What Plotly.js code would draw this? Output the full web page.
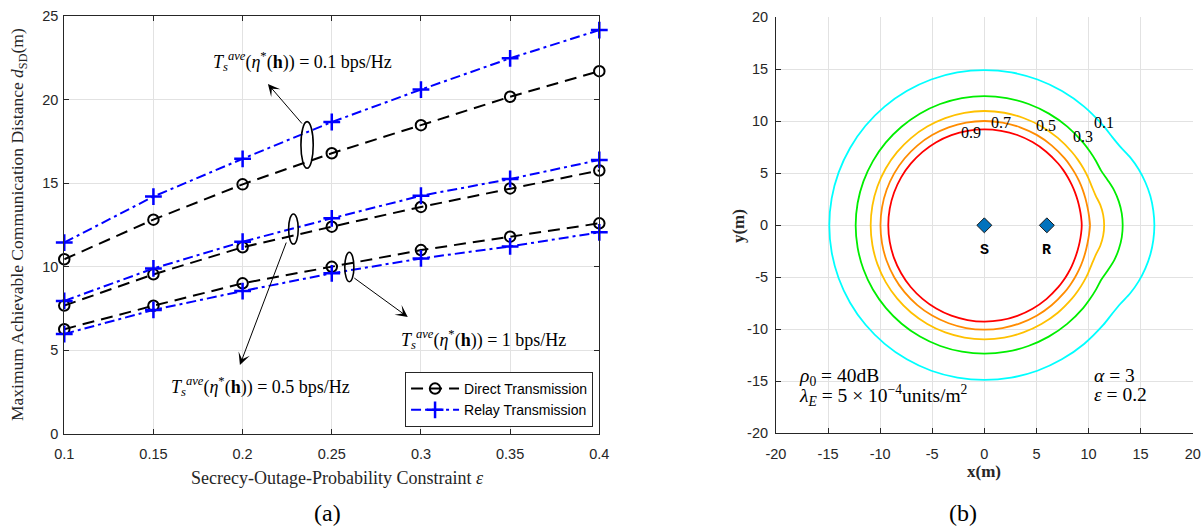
<!DOCTYPE html>
<html>
<head>
<meta charset="utf-8">
<script src="https://cdn.plot.ly/plotly-3.0.1.min.js"></script>
<style>html,body{margin:0;padding:0;background:#fff;}#plot{width:1201px;height:526px;}</style>
</head>
<body>
<div id="plot"></div>
<script>
// ---------- Panel (a) data ----------
const epsilon = [0.1, 0.15, 0.2, 0.25, 0.3, 0.35, 0.4];
const directT01 = [10.45, 12.82, 14.93, 16.79, 18.47, 20.17, 21.7];
const relayT01  = [11.45, 14.2, 16.46, 18.66, 20.6, 22.47, 24.16];
const directT05 = [7.68, 9.55, 11.17, 12.4, 13.58, 14.69, 15.76];
const relayT05  = [7.96, 9.9, 11.5, 12.9, 14.25, 15.25, 16.39];
const directT1  = [6.27, 7.67, 9.01, 10.0, 11.0, 11.8, 12.6];
const relayT1   = [5.98, 7.42, 8.55, 9.61, 10.5, 11.22, 12.06];
const xTickVals = [0.1, 0.15, 0.2, 0.25, 0.3, 0.35, 0.4];
const xTickText = ['0.1', '0.15', '0.2', '0.25', '0.3', '0.35', '0.4'];
const yTickVals = [0, 5, 10, 15, 20, 25];
const yTickText = ['0', '5', '10', '15', '20', '25'];

// ---------- Panel (b) data: contour radii (m) read at polar angles (deg) about S ----------
const contourAngles = [0,5,10,15,20,25,30,35,40,50,60,70,80,90,100,110,120,130,140,150,160,170,180,190,200,210,220,230,240,250,260,270,280,290,300,310,320,325,330,335,340,345,350,355,360];
const contourLevels = ['0.1', '0.3', '0.5', '0.7', '0.9'];
const r01 = [16.32,16.28,16.18,16.0,15.76,15.45,15.08,14.92,14.9, 14.9,14.91,14.92,14.93,14.93,14.93,14.92,14.91,14.9,14.89,14.88,14.88,14.88,14.88,14.88,14.88,14.88,14.88,14.88,14.88,14.88,14.87,14.87,14.87,14.88,14.88,14.89, 14.9,14.92,15.08,15.45,15.76,16.0,16.18,16.28,16.32];
const r03 = [13.28,13.24,13.11,12.91,12.62,12.38,12.37,12.37,12.38, 12.39,12.4,12.41,12.42,12.43,12.42,12.41,12.39,12.37,12.36,12.35,12.35,12.35,12.35,12.35,12.35,12.35,12.35,12.35,12.35,12.35,12.34,12.34,12.34,12.35,12.36,12.37, 12.38,12.37,12.37,12.38,12.62,12.91,13.11,13.24,13.28];
const r05 = [11.5,11.45,11.3,11.06,10.97,10.97,10.97,10.97,10.97, 10.97,10.98,10.98,10.99,10.99,10.98,10.97,10.96,10.95,10.94,10.93,10.92,10.91,10.91,10.91,10.92,10.93,10.94,10.95,10.95,10.96,10.96,10.96,10.96,10.96,10.96,10.97, 10.97,10.97,10.97,10.97,10.97,11.06,11.3,11.45,11.5];
const r07 = [10.14,10.09,10.05,10.04,10.04,10.04,10.04,10.04,10.04, 10.04,10.04,10.03,10.03,10.03,10.03,10.02,10.02,10.01,10.0,9.99,9.98,9.97,9.97,9.97,9.98,9.99,10.0,10.01,10.02,10.02,10.03,10.03,10.03,10.03,10.04,10.04, 10.04,10.04,10.04,10.04,10.04,10.04,10.05,10.09,10.14];
const r09 = [9.35,9.32,9.29,9.27,9.26,9.25,9.25,9.25,9.25, 9.24,9.24,9.24,9.23,9.23,9.23,9.23,9.23,9.22,9.22,9.22,9.22,9.22,9.22,9.22,9.22,9.22,9.23,9.23,9.24,9.25,9.25,9.26,9.26,9.26,9.26,9.26, 9.26,9.26,9.26,9.26,9.26,9.27,9.29,9.32,9.35];
const nodeX = [0, 6];
const nodeY = [0, 0];
const nodeNames = ['S', 'R'];
const bTickVals = [-20, -15, -10, -5, 0, 5, 10, 15, 20];
const bTickText = ['-20', '-15', '-10', '-5', '0', '5', '10', '15', '20'];

// ---------- styling ----------
const AX = '#262626';
const GRID = '#e2e2e2';
const SERIF = 'Liberation Serif, Times New Roman, serif';
const SANS = 'Liberation Sans, Arial, sans-serif';
const tickFont = {family: SANS, size: 14.5, color: AX};

function directTrace(y, show) {
  return {x: epsilon, y: y, type: 'scatter', mode: 'lines+markers', name: 'Direct Transmission',
    legendgroup: 'd', showlegend: show, cliponaxis: false, xaxis: 'x', yaxis: 'y',
    line: {color: '#000000', width: 2, dash: '12px,7px'},
    marker: {symbol: 'circle-open', size: 10.5, color: '#000000', line: {width: 2, color: '#000000'}}};
}
function relayTrace(y, show) {
  return {x: epsilon, y: y, type: 'scatter', mode: 'lines+markers', name: 'Relay Transmission',
    legendgroup: 'r', showlegend: show, cliponaxis: false, xaxis: 'x', yaxis: 'y',
    line: {color: '#0000ff', width: 2, dash: '10px,4px,3px,4px'},
    marker: {symbol: 'cross-thin', size: 12, color: '#0000ff', line: {width: 2.5, color: '#0000ff'}}};
}

const contourColors = ['#00ffff', '#00ee00', '#ffc000', '#ff8c00', '#ff0000'];
const contourRadii = [r01, r03, r05, r07, r09];
const contourTraces = contourRadii.map((r, i) => ({
  x: r.map((v, k) => v * Math.cos(contourAngles[k] * Math.PI / 180)),
  y: r.map((v, k) => v * Math.sin(contourAngles[k] * Math.PI / 180)),
  type: 'scatter', mode: 'lines', name: contourLevels[i], showlegend: false,
  xaxis: 'x2', yaxis: 'y2', line: {color: contourColors[i], width: 1.8, shape: 'spline', smoothing: 0.8}, hoverinfo: 'skip'
}));

const data = [
  directTrace(directT01, true), relayTrace(relayT01, true),
  directTrace(directT05, false), relayTrace(relayT05, false),
  directTrace(directT1, false), relayTrace(relayT1, false),
  ...contourTraces,
  {x: nodeX, y: nodeY, type: 'scatter', mode: 'markers', showlegend: false, xaxis: 'x2', yaxis: 'y2',
   marker: {symbol: 'diamond', size: 11.5, color: '#0072bd', line: {width: 1, color: '#1a1a1a'}}}
];

const mathT = '<i>T</i><sub><i>s</i></sub><sup><i>ave</i></sup>(<i>η</i><sup>*</sup>(<b>h</b>)) = ';
const annFont = {family: SERIF, size: 18, color: '#000'};
function arrow(tx, ty, hx, hy) {
  return {xref: 'x', yref: 'y', axref: 'x', ayref: 'y', x: hx, y: hy, ax: tx, ay: ty, text: '',
    showarrow: true, arrowhead: 3, arrowsize: 2, arrowwidth: 1, arrowcolor: '#000', standoff: 0, startstandoff: 0};
}
function paperText(x, y, text, size, opts) {
  return Object.assign({xref: 'paper', yref: 'paper', x: x, y: y, xanchor: 'center', yanchor: 'middle',
    showarrow: false, text: text, font: {family: SERIF, size: size, color: AX}}, opts || {});
}
const annotations = [
  {xref: 'x', yref: 'y', x: 0.2338, y: 22.3, text: mathT + '0.1 bps/Hz', showarrow: false, font: annFont},
  {xref: 'x', yref: 'y', x: 0.2102, y: 2.83, text: mathT + '0.5 bps/Hz', showarrow: false, font: annFont},
  {xref: 'x', yref: 'y', x: 0.3349, y: 5.68, text: mathT + '1 bps/Hz', showarrow: false, font: annFont},
  arrow(0.2340, 18.48, 0.2142, 20.93),
  arrow(0.2248, 11.54, 0.1985, 4.13),
  arrow(0.2618, 9.39, 0.2926, 7.0),
  // axis titles & captions
  paperText(0.015, 0.5722, 'Maximum Achievable Communication Distance <i>d</i><sub>SD</sub>(m)', 17.5, {textangle: -90}),
  paperText(0.2814, 0.0913, 'Secrecy-Outage-Probability Constraint <i>ε</i>', 18),
  paperText(0.2723, 0.0247, '(a)', 24, {font: {family: SERIF, size: 24, color: '#000'}}),
  paperText(0.6145, 0.5703, '<b>y(m)</b>', 17, {textangle: -90}),
  paperText(0.8193, 0.1027, '<b>x(m)</b>', 17),
  paperText(0.8018, 0.0247, '(b)', 24, {font: {family: SERIF, size: 24, color: '#000'}}),
  // contour labels
  ...[['0.9', -1.28, 8.97], ['0.7', 1.6, 9.93], ['0.5', 5.92, 9.55], ['0.3', 9.44, 8.53], ['0.1', 11.46, 9.87]].map(a => (
    {xref: 'x2', yref: 'y2', x: a[1], y: a[2], text: a[0], showarrow: false, font: {family: SERIF, size: 16, color: '#000'}})),
  // node labels
  ...nodeNames.map((n, i) => ({xref: 'x2', yref: 'y2', x: nodeX[i], y: nodeY[i] - 2.45, text: '<b>' + n + '</b>', showarrow: false,
    font: {family: 'Liberation Mono, Courier New, monospace', size: 15, color: '#000'}})),
  // parameters
  {xref: 'x2', yref: 'y2', x: -17.98, y: -14.55, xanchor: 'left', showarrow: false,
   text: '<i>ρ</i><sub>0</sub> = 40dB', font: {family: SERIF, size: 19.5, color: '#000'}},
  {xref: 'x2', yref: 'y2', x: -17.98, y: -16.35, xanchor: 'left', showarrow: false,
   text: '<i>λ</i><sub><i>E</i></sub> = 5 × 10<sup>−4</sup>units/m<sup>2</sup>', font: {family: SERIF, size: 19.5, color: '#000'}},
  {xref: 'x2', yref: 'y2', x: 10.31, y: -14.45, xanchor: 'left', showarrow: false,
   text: '<i>α</i> = 3', font: {family: SERIF, size: 19.5, color: '#000'}},
  {xref: 'x2', yref: 'y2', x: 10.31, y: -16.3, xanchor: 'left', showarrow: false,
   text: '<i>ε</i> = 0.2', font: {family: SERIF, size: 19.5, color: '#000'}}
];

const shapes = [
  {type: 'circle', xref: 'x', yref: 'y', x0: 0.2327, x1: 0.2396, y0: 15.89, y1: 18.68, line: {color: '#000', width: 1.6}},
  {type: 'circle', xref: 'x', yref: 'y', x0: 0.2258, x1: 0.2312, y0: 11.36, y1: 13.16, line: {color: '#000', width: 1.6}},
  {type: 'circle', xref: 'x', yref: 'y', x0: 0.2573, x1: 0.2624, y0: 9.11, y1: 10.87, line: {color: '#000', width: 1.6}}
];

const layout = {
  width: 1201, height: 526,
  margin: {l: 0, r: 0, t: 0, b: 0},
  paper_bgcolor: '#ffffff', plot_bgcolor: '#ffffff',
  showlegend: true,
  legend: {x: 0.4938, y: 0.1882, xanchor: 'right', yanchor: 'bottom', bgcolor: '#ffffff', itemwidth: 48,
    bordercolor: AX, borderwidth: 1, font: {family: SANS, size: 14, color: '#000'}, tracegroupgap: 0},
  xaxis: {domain: [0.0535, 0.499], range: [0.1, 0.4], tickvals: xTickVals, ticktext: xTickText,
    showgrid: true, gridcolor: GRID, zeroline: false, showline: true, linecolor: AX, linewidth: 1,
    mirror: 'ticks', ticks: 'inside', ticklen: 5, tickcolor: AX, tickfont: tickFont, ticklabelstandoff: 7, anchor: 'y'},
  yaxis: {domain: [0.1749, 0.9696], range: [0, 25], tickvals: yTickVals, ticktext: yTickText,
    showgrid: true, gridcolor: GRID, zeroline: false, showline: true, linecolor: AX, linewidth: 1,
    mirror: 'ticks', ticks: 'inside', ticklen: 5, tickcolor: AX, tickfont: tickFont, ticklabelstandoff: 2, anchor: 'x'},
  xaxis2: {domain: [0.6461, 0.9931], range: [-20, 20], tickvals: bTickVals, ticktext: bTickText,
    showgrid: true, gridcolor: GRID, zeroline: false, showline: true, linecolor: AX, linewidth: 1,
    mirror: false, ticks: 'inside', ticklen: 5, tickcolor: AX, tickfont: tickFont, ticklabelstandoff: 7, anchor: 'y2'},
  yaxis2: {domain: [0.1762, 0.9671], range: [-20, 20], tickvals: bTickVals, ticktext: bTickText,
    showgrid: true, gridcolor: GRID, zeroline: false, showline: true, linecolor: AX, linewidth: 1,
    mirror: false, ticks: 'inside', ticklen: 5, tickcolor: AX, tickfont: tickFont, ticklabelstandoff: 4, anchor: 'x2'},
  annotations: annotations,
  shapes: shapes
};

Plotly.newPlot('plot', data, layout, {displayModeBar: false, staticPlot: true});
</script>
</body>
</html>
